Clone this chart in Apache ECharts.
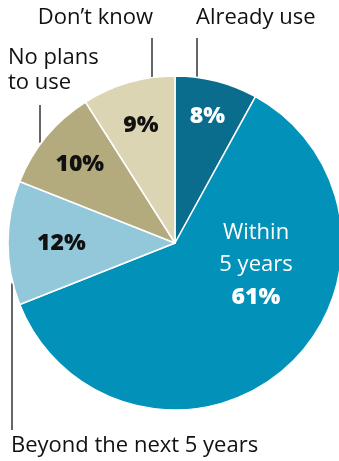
<!DOCTYPE html>
<html>
<head>
<meta charset="utf-8">
<script src="https://cdn.jsdelivr.net/npm/echarts@6/dist/echarts.min.js"></script>
<style>
html, body { margin: 0; padding: 0; background: #fff; }
#chart { width: 339px; height: 461px; }
</style>
</head>
<body>
<div id="chart"></div>
<script>
// data
var categories = ['Already use', 'Within 5 years', 'Beyond the next 5 years', 'No plans to use', 'Don\u2019t know'];
var shares = [8, 61, 12, 10, 9];
var outerLabels = ['Already use', '', 'Beyond the next 5 years', 'No plans\nto use', 'Don\u2019t know'];

var colors = ['#0b6d8d', '#0291b9', '#93c8db', '#b3aa7d', '#dbd5b3'];
var font = '"Open Sans", "Noto Sans", sans-serif';
var cx = 175, cy = 243, R = 167;

var chart = echarts.init(document.getElementById('chart'));

// where each inside label sits, as a fraction of the radius along the slice's mid angle
var labelRadius = [0.78, 0, 0.68, 0.74, 0.73];
var total = shares.reduce(function (a, b) { return a + b; }, 0);
var midAngle = [], acc = 0;
shares.forEach(function (v) {
    midAngle.push((acc + v / 2) / total * Math.PI * 2);
    acc += v;
});

var edgeTop = function (x) { return cy - Math.sqrt(R * R - (x - cx) * (x - cx)); };
var edgeBottom = function (x) { return cy + Math.sqrt(R * R - (x - cx) * (x - cx)); };

var line = function (x, y1, y2) {
    return {
        type: 'line', silent: true,
        shape: {x1: x, y1: y1, x2: x, y2: y2},
        style: {stroke: '#333', lineWidth: 1.5}
    };
};
var text = function (str, x, y, align) {
    return {
        type: 'text', silent: true, x: x, y: y,
        style: {
            text: str, fill: '#111', font: '22px ' + font, lineHeight: 25,
            align: align, textAlign: align, verticalAlign: 'middle', textVerticalAlign: 'middle'
        }
    };
};

var option = {
    animation: false,
    backgroundColor: '#fff',
    series: [{
        type: 'pie',
        silent: true,
        center: [cx, cy],
        radius: R,
        startAngle: 90,
        clockwise: true,
        itemStyle: {borderColor: '#fff', borderWidth: 1.5},
        emphasis: {disabled: true},
        labelLine: {show: false},
        label: {
            show: true,
            position: 'inside',
            fontFamily: font,
            fontSize: 23,
            fontWeight: 800,
            formatter: function (p) {
                if (p.dataIndex === 1) {
                    return '{t|Within}\n{t|5 years}\n' + p.value + '%';
                }
                return p.value + '%';
            },
            rich: {
                t: {fontFamily: font, fontSize: 22, fontWeight: 500, color: '#fff', lineHeight: 32}
            },
            lineHeight: 32
        },
        labelLayout: function (p) {
            var i = p.dataIndex;
            if (i === 1) {
                return {x: cx + 81, y: cy + 22, align: 'center', verticalAlign: 'middle'};
            }
            var r = R * labelRadius[i];
            return {
                x: cx + r * Math.sin(midAngle[i]),
                y: cy - r * Math.cos(midAngle[i]),
                align: 'center', verticalAlign: 'middle'
            };
        },
        data: categories.map(function (name, i) {
            return {
                name: name,
                value: shares[i],
                itemStyle: {color: colors[i]},
                label: {color: i < 2 ? '#fff' : '#111'}
            };
        })
    }],
    graphic: [
        line(197, 38, edgeTop(197)),
        text(outerLabels[0], 196, 18, 'left'),
        line(152, 38, edgeTop(152)),
        text(outerLabels[4], 153, 18, 'right'),
        line(40, 105, edgeTop(40) - 2),
        text(outerLabels[3], 8, 70, 'left'),
        line(12, edgeBottom(12) + 4, 430),
        text(outerLabels[2], 11, 446, 'left')
    ]
};
chart.setOption(option);
</script>
</body>
</html>
